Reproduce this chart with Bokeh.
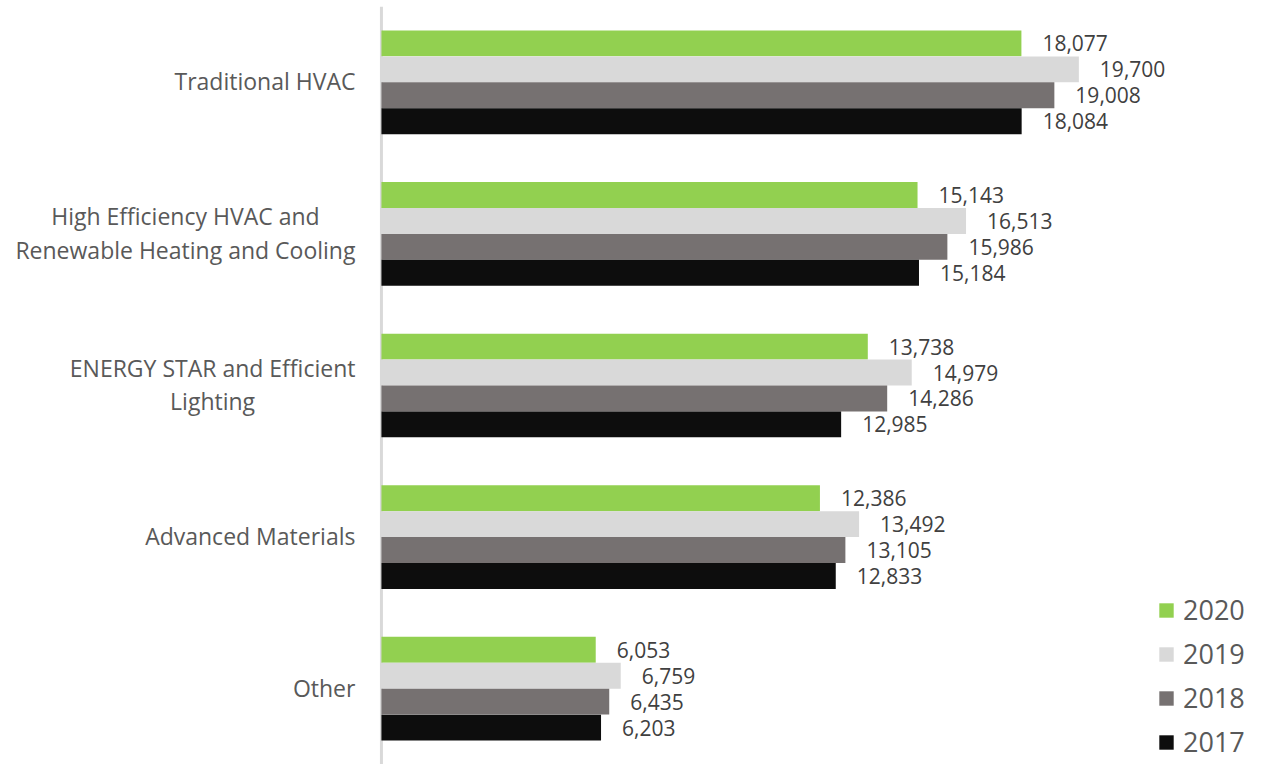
from bokeh.plotting import figure
from bokeh.models import ColumnDataSource, FactorRange, Range1d, Span, Legend, LegendItem
from bokeh.transform import dodge
from bokeh.core.properties import value
from bokeh.embed import file_html
from bokeh.resources import INLINE

# Categories, listed top to bottom
categories = [
    "Traditional HVAC",
    "High Efficiency HVAC and\nRenewable Heating and Cooling",
    "ENERGY STAR and Efficient\nLighting",
    "Advanced Materials",
    "Other",
]
years = ["2020", "2019", "2018", "2017"]
values_2020 = [18077, 15143, 13738, 12386, 6053]
values_2019 = [19700, 16513, 14979, 13492, 6759]
values_2018 = [19008, 15986, 14286, 13105, 6435]
values_2017 = [18084, 15184, 12985, 12833, 6203]

series = [values_2020, values_2019, values_2018, values_2017]
colors = ["#92D050", "#D9D9D9", "#767171", "#0D0D0D"]
offsets = [0.2566, 0.0855, -0.0855, -0.2566]
bar_h = 0.171

FONT = "Open Sans"

p = figure(
    width=1266, height=764,
    y_range=FactorRange(factors=categories[::-1], range_padding=0),
    x_range=Range1d(-10760, 25000),
    output_backend="svg", toolbar_location=None,
    min_border_left=0, min_border_right=0, min_border_top=6, min_border_bottom=0,
)
p.outline_line_color = None
p.xaxis.visible = False
p.yaxis.visible = False
p.xgrid.visible = False
p.ygrid.visible = False
p.background_fill_color = "white"
p.border_fill_color = "white"

# vertical axis line at zero
p.add_layout(Span(location=0, dimension="height", line_color="#D9D9D9",
                  line_width=3, level="underlay"))

legend_items = []
for yr, vals, col, off in zip(years, series, colors, offsets):
    src = ColumnDataSource(dict(cat=categories, val=vals,
                                txt=[f"{v:,}" for v in vals]))
    r = p.hbar(y=dodge("cat", off, range=p.y_range), right="val", left=0,
               height=bar_h, source=src, fill_color=col, line_color=None)
    p.text(x="val", y=dodge("cat", off, range=p.y_range), text="txt", source=src,
           x_offset=21, text_align="left", text_baseline="middle",
           text_font=value(FONT), text_font_size="21px", text_color="#404040")
    legend_items.append(LegendItem(label=yr, renderers=[r]))

# category labels: right-aligned block, lines centred inside it
lab_src = ColumnDataSource(dict(cat=categories, x=[0] * len(categories)))
p.text(x="x", y="cat", text="cat", source=lab_src, x_offset=-26, y_offset=-1,
       anchor="center_right", text_align="center", text_baseline="middle",
       text_font=value(FONT), text_font_size="23px", text_color="#595959",
       text_line_height=1.05)

legend = Legend(items=legend_items, location=(1153, 0),
                glyph_width=18, glyph_height=18, label_standoff=8,
                label_text_font=FONT, label_text_font_size="27px",
                label_text_color="#595959", spacing=7, margin=0, padding=4,
                border_line_alpha=0, background_fill_alpha=0)
p.add_layout(legend)

open("out.html", "w").write(file_html(p, INLINE))
